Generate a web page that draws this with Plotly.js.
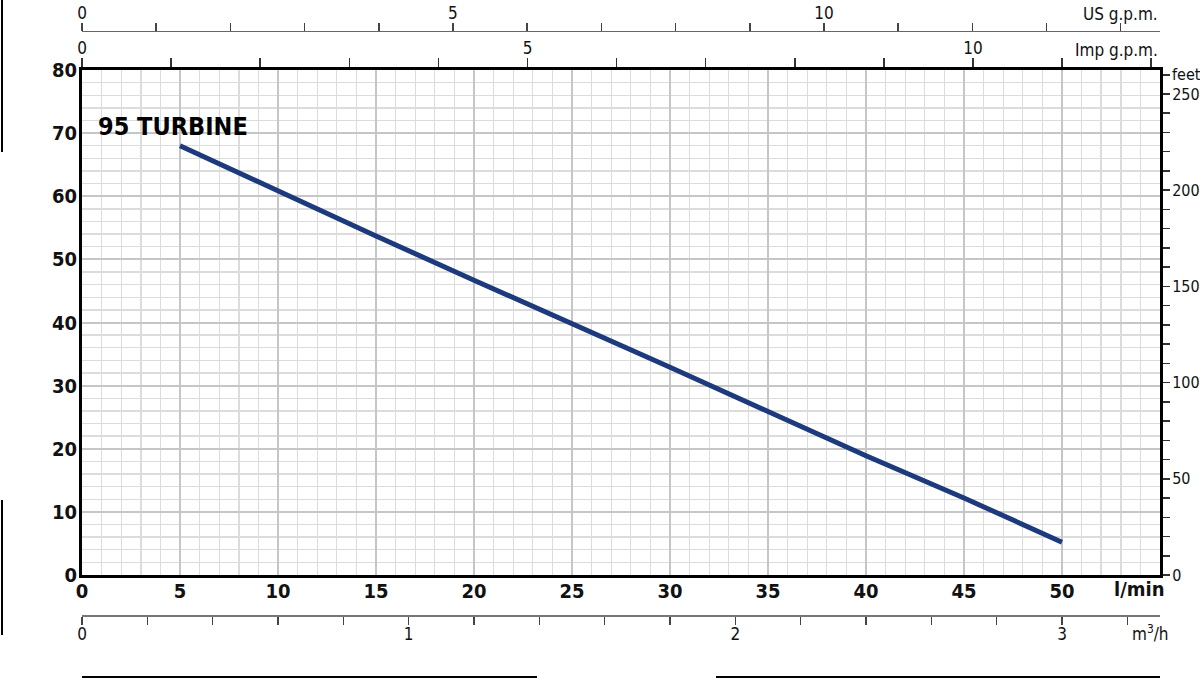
<!DOCTYPE html>
<html>
<head>
<meta charset="utf-8">
<script src="https://cdn.plot.ly/plotly-3.0.1.min.js"></script>
<style>html,body{margin:0;padding:0;background:#fff;}#chart{width:1200px;height:679px;}</style>
</head>
<body>
<div id="chart"></div>
<script>
// Flow (l/min) and head (m)
const flowLmin = [5, 10, 15, 20, 25, 30, 35, 40, 45, 50];
const headM    = [68, 60.8, 53.7, 46.7, 39.9, 32.9, 25.9, 18.9, 12.2, 5.2];
const curveName = "95 TURBINE";

// Main axis ticks
const lminTicks = [0, 5, 10, 15, 20, 25, 30, 35, 40, 45, 50];
const mTicks = [0, 10, 20, 30, 40, 50, 60, 70, 80];

// Secondary scales
const usGpmTicks = [0,1,2,3,4,5,6,7,8,9,10,11,12,13,14];
const usGpmLabels = ["0","","","","","5","","","","","10","","","",""];
const impGpmTicks = [0,1,2,3,4,5,6,7,8,9,10,11,12];
const impGpmLabels = ["0","","","","","5","","","","","10","",""];
const m3hTicks = [0,0.2,0.4,0.6,0.8,1,1.2,1.4,1.6,1.8,2,2.2,2.4,2.6,2.8,3,3.2];
const m3hLabels = ["0","","","","","1","","","","","2","","","","","3",""];
const feetTicks = [0,10,20,30,40,50,60,70,80,90,100,110,120,130,140,150,160,170,180,190,200,210,220,230,240,250,260];
const feetLabels = feetTicks.map(v => (v % 50 === 0 && v <= 250 ? String(v) : ""));

const X_MAX = 55, Y_MAX = 80;
const LMIN_PER_USGPM = 3.78541, LMIN_PER_IMPGPM = 4.54609, LMIN_PER_M3H = 1000/60, M_PER_FT = 0.3048;

const FONT = "DejaVu Sans Condensed, Liberation Sans Narrow, sans-serif";
const BOLD = {family: FONT, size: 20, color: "#111", weight: 700};
const REG = {family: FONT, size: 17, color: "#111"};
const REG_R = {family: FONT, size: 16, color: "#111"};

const trace = {
  x: flowLmin, y: headM, type: "scatter", mode: "lines", name: curveName,
  line: {color: "#1d3a7c", width: 5}, xaxis: "x", yaxis: "y", hoverinfo: "x+y"
};
// Same curve expressed in the secondary units (invisible), so those axes are drawn
function ghost(xs, ys, xa, ya) {
  return {x: xs, y: ys, type: "scatter", mode: "lines", xaxis: xa, yaxis: ya,
          line: {width: 0, color: "rgba(0,0,0,0)"}, hoverinfo: "skip", showlegend: false};
}
const traces = [
  trace,
  ghost(flowLmin.map(v => v / LMIN_PER_IMPGPM), headM, "x2", "y"),
  ghost(flowLmin.map(v => v / LMIN_PER_USGPM), headM, "x3", "y"),
  ghost(flowLmin.map(v => v / LMIN_PER_M3H), headM, "x4", "y"),
  ghost(flowLmin, headM.map(v => v / M_PER_FT), "x", "y2")
];

const layout = {
  width: 1200, height: 679,
  margin: {l: 82, r: 40, t: 31, b: 64},
  paper_bgcolor: "#fff", plot_bgcolor: "#fff",
  showlegend: false,
  font: REG,
  xaxis: {
    range: [0, X_MAX], anchor: "y",
    tickmode: "array", tickvals: lminTicks, ticktext: lminTicks.map(String),
    tickfont: BOLD, ticks: "", ticklabelstandoff: -4,
    showline: true, linewidth: 3, linecolor: "#000",
    showgrid: true, gridcolor: "#c6c6c6", gridwidth: 2, zeroline: false,
    minor: {tick0: 0, dtick: 1, showgrid: true, gridcolor: "#dcdcdc", gridwidth: 1.4, ticks: ""}
  },
  yaxis: {
    range: [0, Y_MAX], domain: [40/584, 545/584], anchor: "x",
    tickmode: "array", tickvals: mTicks, ticktext: mTicks.map(String),
    tickfont: BOLD, ticks: "", ticklabelstandoff: -2,
    showline: true, linewidth: 3, linecolor: "#000",
    showgrid: true, gridcolor: "#c6c6c6", gridwidth: 2, zeroline: false,
    minor: {tick0: 0, dtick: 2, showgrid: true, gridcolor: "#dcdcdc", gridwidth: 1.4, ticks: ""}
  },
  xaxis2: {
    overlaying: "x", anchor: "y", side: "top",
    range: [0, X_MAX / LMIN_PER_IMPGPM],
    tickmode: "array", tickvals: impGpmTicks, ticktext: impGpmLabels,
    ticks: "outside", ticklen: 9, tickwidth: 1.5, tickcolor: "#333", tickfont: REG,
    ticklabelstandoff: -3,
    showline: true, linewidth: 3, linecolor: "#000", showgrid: false, zeroline: false
  },
  xaxis3: {
    overlaying: "x", anchor: "free", position: 1, side: "top",
    range: [0, X_MAX / LMIN_PER_USGPM],
    tickmode: "array", tickvals: usGpmTicks, ticktext: usGpmLabels,
    ticks: "outside", ticklen: 8, tickwidth: 1.5, tickcolor: "#444", tickfont: REG,
    ticklabelstandoff: -3,
    showline: true, linewidth: 1.2, linecolor: "#666", showgrid: false, zeroline: false
  },
  xaxis4: {
    overlaying: "x", anchor: "free", position: 0, side: "bottom",
    range: [0, X_MAX / LMIN_PER_M3H],
    tickmode: "array", tickvals: m3hTicks, ticktext: m3hLabels,
    ticks: "outside", ticklen: 8, tickwidth: 1.5, tickcolor: "#444", tickfont: REG,
    ticklabelstandoff: -5,
    showline: true, linewidth: 1.5, linecolor: "#777", showgrid: false, zeroline: false
  },
  yaxis2: {
    overlaying: "y", anchor: "x", side: "right",
    range: [0, Y_MAX / M_PER_FT],
    tickmode: "array", tickvals: feetTicks, ticktext: feetLabels,
    ticks: "outside", ticklen: 7, tickwidth: 1.5, tickcolor: "#333", tickfont: REG_R,
    ticklabelstandoff: -1,
    showline: true, linewidth: 3, linecolor: "#000", showgrid: false, zeroline: false
  },
  annotations: [
    {text: "<b>" + curveName + "</b>", xref: "x", yref: "y", x: 0.7, y: 71, xanchor: "left", yanchor: "middle",
     showarrow: false, font: {family: FONT, size: 25, color: "#000", weight: 700}},
    {text: "<b>l/min</b>", xref: "paper", yref: "paper", x: 1.006, y: 26/584, xanchor: "right", yanchor: "middle",
     showarrow: false, font: BOLD},
    {text: "feet", xref: "paper", yref: "y2", x: (1170-82)/1078, y: 260, xanchor: "left", yanchor: "middle",
     showarrow: false, font: REG_R},
    {text: "US g.p.m.", xref: "paper", yref: "paper", x: 1.0, y: (615-14)/584, xanchor: "right", yanchor: "middle",
     showarrow: false, font: REG},
    {text: "Imp g.p.m.", xref: "paper", yref: "paper", x: 1.0, y: (615-50)/584, xanchor: "right", yanchor: "middle",
     showarrow: false, font: REG},
    {text: "m<sup>3</sup>/h", xref: "paper", yref: "paper", x: (1150-82)/1078, y: (615-633)/584, xanchor: "center", yanchor: "middle",
     showarrow: false, font: REG}
  ],
  shapes: [
    {type: "line", xref: "paper", yref: "paper", x0: -80/1078, x1: -80/1078, y0: 615/584, y1: (615-152)/584, line: {color: "#000", width: 2}},
    {type: "line", xref: "paper", yref: "paper", x0: -80/1078, x1: -80/1078, y0: (615-500)/584, y1: (615-635)/584, line: {color: "#000", width: 2}},
    {type: "line", xref: "paper", yref: "paper", x0: 0, x1: (537-82)/1078, y0: (615-677)/584, y1: (615-677)/584, line: {color: "#000", width: 2}},
    {type: "line", xref: "paper", yref: "paper", x0: (716-82)/1078, x1: 1, y0: (615-677)/584, y1: (615-677)/584, line: {color: "#000", width: 2}}
  ]
};

Plotly.newPlot("chart", traces, layout, {staticPlot: true, displayModeBar: false});
</script>
</body>
</html>
